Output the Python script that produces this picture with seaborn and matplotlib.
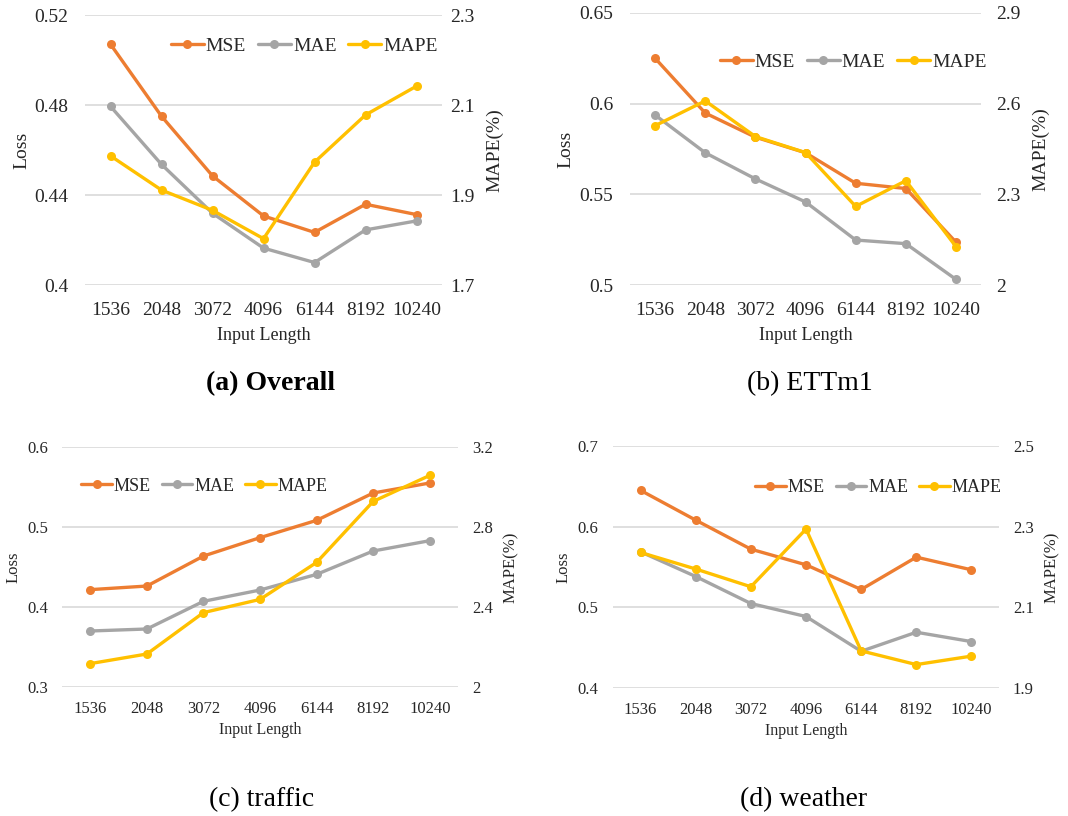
"""Loss / MAPE versus input length for four datasets (dual-axis line charts)."""

import matplotlib.pyplot as plt
import numpy as np
import pandas as pd
import seaborn as sns

sns.set_theme(style="white")
plt.rcParams["font.family"] = ["Liberation Serif", "DejaVu Serif"]

INPUT_LENGTHS = ["1536", "2048", "3072", "4096", "6144", "8192", "10240"]

OVERALL_MSE = [0.507, 0.475, 0.4485, 0.4307, 0.4234, 0.4359, 0.4313]
OVERALL_MAE = [0.4794, 0.4536, 0.4319, 0.4164, 0.4100, 0.4245, 0.4285]
OVERALL_MAPE = [1.987, 1.911, 1.866, 1.803, 1.973, 2.078, 2.142]

ETTM1_MSE = [0.625, 0.5948, 0.5815, 0.5729, 0.5561, 0.5532, 0.5236]
ETTM1_MAE = [0.5937, 0.5729, 0.5585, 0.5458, 0.5248, 0.5228, 0.5031]
ETTM1_MAPE = [2.527, 2.609, 2.491, 2.438, 2.260, 2.345, 2.127]

TRAFFIC_MSE = [0.4217, 0.4262, 0.4637, 0.4867, 0.5083, 0.5425, 0.555]
TRAFFIC_MAE = [0.370, 0.3725, 0.4071, 0.4212, 0.4408, 0.470, 0.4829]
TRAFFIC_MAPE = [2.117, 2.165, 2.372, 2.438, 2.623, 2.928, 3.058]

WEATHER_MSE = [0.645, 0.6081, 0.5721, 0.5527, 0.5221, 0.5622, 0.5465]
WEATHER_MAE = [0.5688, 0.5382, 0.5047, 0.4886, 0.4455, 0.4691, 0.4575]
WEATHER_MAPE = [2.236, 2.195, 2.151, 2.294, 1.992, 1.958, 1.979]

COLORS = {"MSE": "#ED7D31", "MAE": "#A5A5A5", "MAPE": "#FFC000"}
TEXT = "#262626"

PANELS = [
    dict(mse=OVERALL_MSE, mae=OVERALL_MAE, mape=OVERALL_MAPE,
         loss_ticks=[0.4, 0.44, 0.48, 0.52], mape_ticks=[1.7, 1.9, 2.1, 2.3],
         rect=[0.0796, 0.6507, 0.3343, 0.3309],
         caption="(a) Overall", cap_xy=(0.253, 0.530), bold=True,
         legend_xy=(0.160, 0.9436), tick_fs=14, label_fs=14, xlabel_fs=13, leg_fs=14, cap_fs=20,
         lpad=12, rpad=6, xpad=12, llab=3, rlab=8, xlab=6),
    dict(mse=ETTM1_MSE, mae=ETTM1_MAE, mape=ETTM1_MAPE,
         loss_ticks=[0.5, 0.55, 0.6, 0.65], mape_ticks=[2.0, 2.3, 2.6, 2.9],
         rect=[0.5899, 0.6507, 0.3287, 0.3335],
         caption="(b) ETTm1", cap_xy=(0.758, 0.530), bold=False,
         legend_xy=(0.674, 0.924), tick_fs=14, label_fs=14, xlabel_fs=13, leg_fs=14, cap_fs=20,
         lpad=12, rpad=11, xpad=12, llab=4, rlab=8, xlab=6),
    dict(mse=TRAFFIC_MSE, mae=TRAFFIC_MAE, mape=TRAFFIC_MAPE,
         loss_ticks=[0.3, 0.4, 0.5, 0.6], mape_ticks=[2.0, 2.4, 2.8, 3.2],
         rect=[0.0581, 0.1581, 0.3708, 0.2941],
         caption="(c) traffic", cap_xy=(0.245, 0.020), bold=False,
         legend_xy=(0.076, 0.4044), tick_fs=12, label_fs=12, xlabel_fs=11.5, leg_fs=13, cap_fs=20,
         lpad=10, rpad=10, xpad=10, llab=4, rlab=7, xlab=4),
    dict(mse=WEATHER_MSE, mae=WEATHER_MAE, mape=WEATHER_MAPE,
         loss_ticks=[0.4, 0.5, 0.6, 0.7], mape_ticks=[1.9, 2.1, 2.3, 2.5],
         rect=[0.5740, 0.1569, 0.3614, 0.2965],
         caption="(d) weather", cap_xy=(0.752, 0.020), bold=False,
         legend_xy=(0.707, 0.402), tick_fs=12, label_fs=12, xlabel_fs=11.5, leg_fs=13, cap_fs=20,
         lpad=11, rpad=10, xpad=10, llab=4, rlab=7, xlab=4),
]


def draw_panel(fig, p):
    ax = fig.add_axes(p["rect"])
    ax2 = ax.twinx()
    pos = np.arange(len(INPUT_LENGTHS))
    df = pd.DataFrame({"pos": pos, "MSE": p["mse"], "MAE": p["mae"], "MAPE": p["mape"]})

    line_kw = dict(marker="o", markersize=6.5, linewidth=2.4, markeredgewidth=0)
    sns.lineplot(data=df, x="pos", y="MSE", ax=ax, color=COLORS["MSE"], label="MSE", **line_kw)
    sns.lineplot(data=df, x="pos", y="MAE", ax=ax, color=COLORS["MAE"], label="MAE", **line_kw)
    sns.lineplot(data=df, x="pos", y="MAPE", ax=ax2, color=COLORS["MAPE"], label="MAPE", **line_kw)

    lt, mt = p["loss_ticks"], p["mape_ticks"]
    ax.set_ylim(lt[0], lt[-1])
    ax.set_yticks(lt)
    ax.set_yticklabels([f"{v:g}" for v in lt])
    ax2.set_ylim(mt[0], mt[-1])
    ax2.set_yticks(mt)
    ax2.set_yticklabels([f"{v:g}" for v in mt])
    ax.set_xlim(-0.5, len(INPUT_LENGTHS) - 0.5)
    ax.set_xticks(pos)
    ax.set_xticklabels(INPUT_LENGTHS)

    ax.grid(axis="y", color="#D9D9D9", linewidth=1.2)
    ax.set_axisbelow(True)
    for a in (ax, ax2):
        for s in a.spines.values():
            s.set_visible(False)
        a.tick_params(length=0, labelsize=p["tick_fs"], colors=TEXT)
    ax.tick_params(axis="y", pad=p["lpad"])
    ax.tick_params(axis="x", pad=p["xpad"])
    ax2.tick_params(axis="y", pad=p["rpad"])

    ax.set_xlabel("Input Length", fontsize=p["xlabel_fs"], color=TEXT, labelpad=p["xlab"])
    ax.set_ylabel("Loss", fontsize=p["label_fs"], color=TEXT, labelpad=p["llab"])
    ax2.set_ylabel("MAPE(%)", fontsize=p["label_fs"], color=TEXT, labelpad=p["rlab"])

    h1, l1 = ax.get_legend_handles_labels()
    h2, l2 = ax2.get_legend_handles_labels()
    for a in (ax, ax2):
        if a.get_legend():
            a.get_legend().remove()
    fig.legend(h1 + h2, l1 + l2, ncol=3, frameon=False, loc="center left",
               bbox_to_anchor=p["legend_xy"], fontsize=p["leg_fs"], handlelength=1.7,
               handletextpad=0.1, columnspacing=0.6, borderaxespad=0, borderpad=0)

    fig.text(p["cap_xy"][0], p["cap_xy"][1], p["caption"], ha="center", va="center",
             fontsize=p["cap_fs"], fontweight="bold" if p["bold"] else "normal", color="black")


fig = plt.figure(figsize=(10.68, 8.16), dpi=100)
for panel in PANELS:
    draw_panel(fig, panel)
fig.savefig("out.png", dpi=100)
plt.close(fig)
